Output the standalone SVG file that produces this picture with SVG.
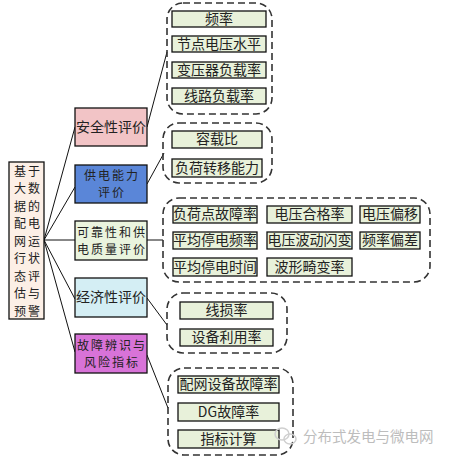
<svg xmlns="http://www.w3.org/2000/svg" width="450" height="458" viewBox="0 0 450 458">
<style>
text{font-family:"Noto Sans CJK SC","Noto Sans",sans-serif;font-size:14px;fill:#222;text-anchor:middle}
.ml{font-size:12px;letter-spacing:2px}
.box{stroke:#111;stroke-width:1.3}
.leaf{fill:#e8f1da;stroke:#111;stroke-width:1.3}
.grp{fill:none;stroke:#333;stroke-width:1.6;stroke-dasharray:7 4}
.con{stroke:#111;stroke-width:1;fill:none}
.wm{fill:#bdbdbd;font-size:14.5px;text-anchor:start}
</style>
<rect width="450" height="458" fill="#fff"/>
<g id="connectors">
<line class="con" x1="44" y1="240" x2="75" y2="127"/>
<line class="con" x1="44" y1="240" x2="75" y2="187"/>
<line class="con" x1="44" y1="240" x2="75" y2="240"/>
<line class="con" x1="44" y1="240" x2="75" y2="299"/>
<line class="con" x1="44" y1="240" x2="75" y2="352"/>
<line class="con" x1="147" y1="127" x2="167" y2="52"/>
<line class="con" x1="147" y1="184" x2="164" y2="153"/>
<line class="con" x1="147" y1="240" x2="163" y2="240"/>
<line class="con" x1="147" y1="298" x2="167" y2="325"/>
<line class="con" x1="147" y1="355" x2="168" y2="408"/>
</g>
<g id="root">
<rect class="box" x="9" y="162" width="35" height="157" fill="#fcefe6"/>
<text class="ml" x="28" y="176"><tspan x="28">基于</tspan><tspan x="28" dy="17.45">大数</tspan><tspan x="28" dy="17.45">据的</tspan><tspan x="28" dy="17.45">配电</tspan><tspan x="28" dy="17.45">网运</tspan><tspan x="28" dy="17.45">行状</tspan><tspan x="28" dy="17.45">态评</tspan><tspan x="28" dy="17.45">估与</tspan><tspan x="28" dy="17.45">预警</tspan></text>
</g>
<g id="cat-safety">
<rect class="box" x="75" y="108" width="72" height="38" fill="#f2c4c6"/>
<text x="111" y="132">安全性评价</text>
</g>
<g id="cat-supply">
<rect class="box" x="75" y="165" width="72" height="38" fill="#5a86d8"/>
<text class="ml" x="112" y="180"><tspan x="112">供电能力</tspan><tspan x="112" dy="17.45">评价</tspan></text>
</g>
<g id="cat-reliability">
<rect class="box" x="75" y="221" width="72" height="39" fill="#eaf4de"/>
<text class="ml" x="112" y="237"><tspan x="112">可靠性和供</tspan><tspan x="112" dy="17.45">电质量评价</tspan></text>
</g>
<g id="cat-economy">
<rect class="box" x="75" y="278" width="72" height="39" fill="#d4eef4"/>
<text x="111" y="302">经济性评价</text>
</g>
<g id="cat-fault">
<rect class="box" x="75" y="334" width="72" height="39" fill="#d873d8"/>
<text class="ml" x="112" y="350"><tspan x="112">故障辨识与</tspan><tspan x="112" dy="17.45">风险指标</tspan></text>
</g>
<g id="grp-safety">
<rect class="grp" x="167" y="3" width="105" height="111" rx="16"/>
<rect class="leaf" x="172" y="11" width="94" height="16"/><text x="219" y="24">频率</text>
<rect class="leaf" x="172" y="36" width="94" height="16"/><text x="219" y="49">节点电压水平</text>
<rect class="leaf" x="172" y="62" width="94" height="16"/><text x="219" y="75">变压器负载率</text>
<rect class="leaf" x="172" y="88" width="94" height="16"/><text x="219" y="101">线路负载率</text>
</g>
<g id="grp-supply">
<rect class="grp" x="163" y="123" width="109" height="60" rx="16"/>
<rect class="leaf" x="172" y="131" width="90" height="17"/><text x="217" y="144">容载比</text>
<rect class="leaf" x="172" y="159" width="90" height="18"/><text x="217" y="173">负荷转移能力</text>
</g>
<g id="grp-reliability">
<rect class="grp" x="163" y="198" width="267" height="84" rx="16"/>
<rect class="leaf" x="173" y="206" width="84" height="17"/><text x="215" y="219">负荷点故障率</text>
<rect class="leaf" x="267" y="206" width="85" height="17"/><text x="309.5" y="219">电压合格率</text>
<rect class="leaf" x="360" y="206" width="60" height="17"/><text x="390" y="219">电压偏移</text>
<rect class="leaf" x="173" y="232" width="84" height="17"/><text x="215" y="245">平均停电频率</text>
<rect class="leaf" x="267" y="232" width="85" height="17"/><text x="309.5" y="245">电压波动闪变</text>
<rect class="leaf" x="360" y="232" width="60" height="17"/><text x="390" y="245">频率偏差</text>
<rect class="leaf" x="173" y="258" width="84" height="18"/><text x="215" y="272">平均停电时间</text>
<rect class="leaf" x="267" y="258" width="85" height="18"/><text x="309.5" y="272">波形畸变率</text>
</g>
<g id="grp-economy">
<rect class="grp" x="167" y="293" width="120" height="60" rx="16"/>
<rect class="leaf" x="180" y="302" width="93" height="17"/><text x="226.5" y="315">线损率</text>
<rect class="leaf" x="180" y="329" width="93" height="17"/><text x="226.5" y="342">设备利用率</text>
</g>
<g id="grp-fault">
<rect class="grp" x="168" y="368" width="125" height="87" rx="16"/>
<rect class="leaf" x="178" y="376" width="101" height="17"/><text x="228.5" y="389">配网设备故障率</text>
<rect class="leaf" x="178" y="403" width="101" height="18"/><text x="228.5" y="417">DG故障率</text>
<rect class="leaf" x="178" y="430" width="101" height="18"/><text x="228.5" y="444">指标计算</text>
</g>
<g id="watermark">
<ellipse cx="282" cy="434" rx="7" ry="6" fill="none" stroke="#cfcfcf" stroke-width="1.5"/>
<ellipse cx="290" cy="439" rx="6" ry="5" fill="none" stroke="#cfcfcf" stroke-width="1.5"/>
<text class="wm" x="303" y="442">分布式发电与微电网</text>
</g>
</svg>
